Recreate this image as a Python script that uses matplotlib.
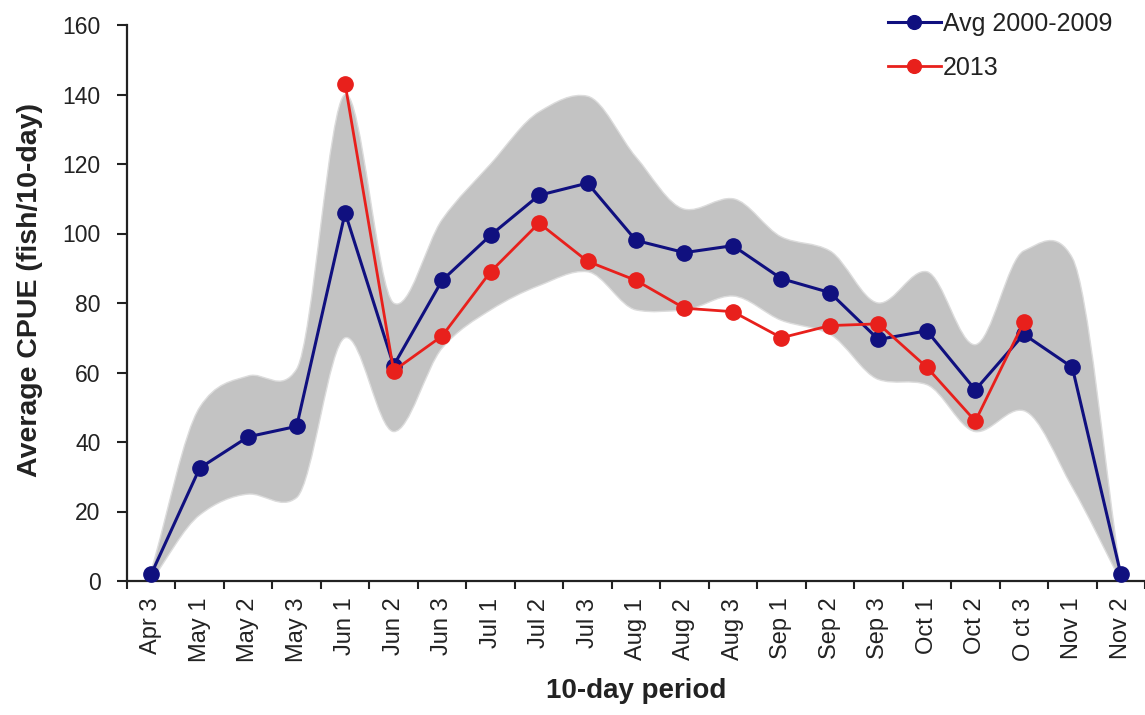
import numpy as np
import matplotlib
matplotlib.use("Agg")
import matplotlib.pyplot as plt
from matplotlib.path import Path
from matplotlib.patches import PathPatch

plt.rcParams['font.family'] = ['Liberation Sans', 'DejaVu Sans']

periods = ["Apr 3", "May 1", "May 2", "May 3", "Jun 1", "Jun 2", "Jun 3", "Jul 1",
           "Jul 2", "Jul 3", "Aug 1", "Aug 2", "Aug 3", "Sep 1", "Sep 2", "Sep 3",
           "Oct 1", "Oct 2", "O ct 3", "Nov 1", "Nov 2"]

avg_2000_2009 = [2, 32.5, 41.5, 44.5, 106, 62, 86.5, 99.5, 111, 114.5, 98, 94.5,
                 96.5, 87, 83, 69.5, 72, 55, 71, 61.5, 2]

cpue_2013 = [None, None, None, None, 143, 60.5, 70.5, 89, 103, 92, 86.5, 78.5,
             77.5, 70, 73.5, 74, 61.5, 46, 74.5, None, None]

band_upper = [3, 50, 59, 61, 140, 80, 104, 120, 135, 139.5, 122, 107, 110, 99, 95,
              80, 89, 68, 95, 93, 2]
band_lower = [0, 19, 25, 24, 70, 43, 67, 78, 85, 89, 78, 78, 82, 75, 71, 58,
              56.5, 43, 49, 27, 0]

BLUE = '#10107f'
RED = '#e8201c'
BAND = '#c3c3c3'


def blended_slopes(ys):
    ys = np.asarray(ys, dtype=float)
    d = np.diff(ys)
    n = len(ys)
    mp = np.zeros(n)
    mc = np.zeros(n)
    mp[0] = mc[0] = d[0]
    mp[-1] = mc[-1] = d[-1]
    for k in range(1, n - 1):
        mc[k] = (ys[k + 1] - ys[k - 1]) / 2.0
        if d[k - 1] * d[k] <= 0:
            mp[k] = 0.0
        else:
            mp[k] = 2.0 / (1.0 / d[k - 1] + 1.0 / d[k])
    return 0.5 * (mp + mc)


def smooth_segments(xs, ys, first_code):
    m = blended_slopes(ys)
    n = len(xs)
    verts = [(xs[0], ys[0])]
    codes = [first_code]
    for i in range(n - 1):
        h = xs[i + 1] - xs[i]
        c1 = (xs[i] + h / 3.0, ys[i] + m[i] * h / 3.0)
        c2 = (xs[i + 1] - h / 3.0, ys[i + 1] - m[i + 1] * h / 3.0)
        verts += [c1, c2, (xs[i + 1], ys[i + 1])]
        codes += [Path.CURVE4] * 3
    return verts, codes


fig = plt.figure(figsize=(11.45, 7.15), dpi=100)
ax = fig.add_axes([127 / 1145, 1 - 581 / 715, (1145 - 127) / 1145, (581 - 25) / 715])

x = np.arange(len(periods), dtype=float)
up = np.array(band_upper, dtype=float)
lo = np.array(band_lower, dtype=float)

v1, c1 = smooth_segments(x, up, Path.MOVETO)
xr = x[::-1]
v2, c2 = smooth_segments(-xr, lo[::-1], Path.LINETO)
v2 = [(-vx, vy) for vx, vy in v2]
verts = v1 + v2 + [(x[0], up[0])]
codes = c1 + c2 + [Path.CLOSEPOLY]
band = PathPatch(Path(verts, codes), facecolor=BAND, edgecolor='#dcdcdc',
                 linewidth=1.0, zorder=1)
ax.add_patch(band)

avg = np.array(avg_2000_2009, dtype=float)
y13 = np.array([np.nan if v is None else v for v in cpue_2013], dtype=float)

ax.plot(x, avg, color=BLUE, lw=2.2, marker='o', ms=11, mfc=BLUE, mec=BLUE,
        label='Avg 2000-2009', zorder=3, clip_on=False)
ax.plot(x, y13, color=RED, lw=2.0, marker='o', ms=11, mfc=RED, mec=RED,
        label='2013', zorder=4, clip_on=False)

ax.set_xlim(-0.5, len(periods) - 0.5)
ax.set_ylim(0, 160)
ax.set_yticks(np.arange(0, 161, 20))

ax.set_xticks(np.arange(-0.5, len(periods), 1.0))
ax.set_xticklabels([])
ax.set_xticks(x, minor=True)
ax.set_xticklabels(periods, minor=True, rotation=90)
ax.tick_params(axis='x', which='minor', length=0, pad=12, labelsize=17, labelcolor='#222222')
ax.tick_params(axis='x', which='major', length=6, width=1.5, direction='out', color='#222222')
ax.tick_params(axis='y', length=7, width=1.5, direction='out', pad=12, labelsize=16.5,
               labelcolor='#222222', color='#222222')

for s in ['top', 'right']:
    ax.spines[s].set_visible(False)
for s in ['left', 'bottom']:
    ax.spines[s].set_linewidth(1.6)
    ax.spines[s].set_color('#222222')

ax.set_ylabel('Average CPUE (fish/10-day)', fontsize=20.5, fontweight='bold', color='#222222')
ax.yaxis.set_label_coords(-0.083, 0.523)
ax.set_xlabel('10-day period', fontsize=20, fontweight='bold', color='#222222')
ax.xaxis.set_label_coords(0.5, -0.175)

leg = fig.legend(loc='upper left', bbox_to_anchor=(888 / 1145, 1 - 12 / 715),
                 frameon=False, fontsize=18, handlelength=2.1, handletextpad=0.1,
                 borderpad=0, borderaxespad=0, labelspacing=0.8, markerscale=0.9)
for t in leg.get_texts():
    t.set_color('#222222')

fig.savefig('out.png', dpi=100)
